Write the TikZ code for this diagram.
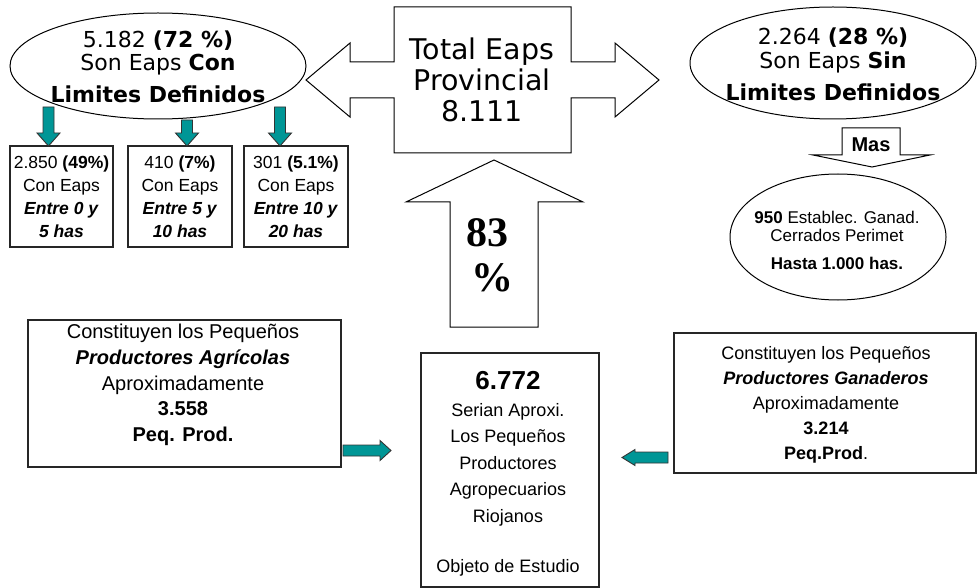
\documentclass[tikz,border=0pt]{standalone}
\usepackage{fontspec}
\setmainfont{Liberation Sans}
\newfontfamily\verd{DejaVu Sans}
\newfontfamily\tms{Liberation Serif}
\usetikzlibrary{shapes.geometric}
\definecolor{tealfill}{RGB}{0,150,150}
\newcommand\tealdown[3]{\draw[tealarr] (#1-5.5,#2) -- (#1+5.5,#2) -- (#1+5.5,#3-13) -- (#1+11.5,#3-13) -- (#1,#3) -- (#1-11.5,#3-13) -- (#1-5.5,#3-13) -- cycle;}
\begin{document}
\begin{tikzpicture}[x=1pt,y=-1pt,
  outl/.style={draw=black, line width=1pt, line join=miter},
  boxed/.style={draw=black!85, line width=1.3pt, inner sep=0pt},
  tealarr/.style={fill=tealfill, draw=black!80, line width=0.9pt, line join=miter},
  txt/.style={align=center, inner sep=0pt},
  arialA/.style={font=\fontsize{17.5}{23}\selectfont},
]
\useasboundingbox[fill=white] (0,0) rectangle (977,588);

% ---- left ellipse
\node[ellipse, outl, minimum width=296pt, minimum height=106pt, inner sep=0pt] (lell) at (158,66) {};
\node[txt, font=\verd\fontsize{22}{23}\selectfont] (lelltxt) at (158,67)
  {5.182 \textbf{(72 \%)}\\Son Eaps \textbf{Con}\\[9pt]\textbf{Limites Definidos}};

% ---- central double arrow
\draw[outl] (306,80) -- (350,43) -- (350,62) -- (394,62) -- (394,7) -- (571,7) -- (571,62) -- (615,62) -- (615,43) -- (659,80) -- (615,117) -- (615,98) -- (571,98) -- (571,153) -- (394,153) -- (394,98) -- (350,98) -- (350,117) -- cycle;
\node[txt, font=\verd\fontsize{28.5}{31}\selectfont] (total) at (482,80) {Total Eaps\\Provincial\\8.111};

% ---- up arrow 83 %
\draw[outl] (494,160) -- (583,202) -- (538,202) -- (538,327) -- (450,327) -- (450,202) -- (406,202) -- cycle;
\node[txt, font=\tms\bfseries\fontsize{42}{45}\selectfont] (pct) at (492,255) {83\hspace*{9pt}\\\%};

% ---- right ellipse
\node[ellipse, outl, minimum width=286pt, minimum height=112pt, inner sep=0pt] (rell) at (833,63) {};
\node[txt, font=\verd\fontsize{22}{24}\selectfont] (relltxt) at (833,64)
  {2.264 \textbf{(28 \%)}\\Son Eaps \textbf{Sin}\\[8pt]\textbf{Limites Definidos}};

% ---- Mas arrow
\draw[outl] (842,128) -- (900,128) -- (900,155) -- (930,155) -- (872,167) -- (813,155) -- (842,155) -- cycle;
\node[txt, font=\bfseries\fontsize{20}{22}\selectfont] (mas) at (871,145) {Mas};

% ---- small ellipse
\node[ellipse, outl, minimum width=216pt, minimum height=126pt, inner sep=0pt] (sell) at (838,237) {};
\node[txt, font=\fontsize{17}{18}\selectfont] (selltxt) at (837,240)
  {\textbf{950} Establec. Ganad.\\Cerrados Perimet\\[10pt]\textbf{Hasta 1.000 has.}};

% ---- three small boxes
\node[boxed, txt, arialA, minimum width=103pt, minimum height=101pt] (b1) at (61.5,196.5)
  {2.850 \textbf{(49\%)}\\Con Eaps\\\textbf{\textit{Entre 0 y}}\\\textbf{\textit{5 has}}};
\node[boxed, txt, arialA, minimum width=104pt, minimum height=101pt] (b2) at (180,196.5)
  {410 \textbf{(7\%)}\\Con Eaps\\\textbf{\textit{Entre 5 y}}\\\textbf{\textit{10 has}}};
\node[boxed, txt, arialA, minimum width=104pt, minimum height=101pt] (b3) at (296,196.5)
  {301 \textbf{(5.1\%)}\\Con Eaps\\\textbf{\textit{Entre 10 y}}\\\textbf{\textit{20 has}}};

\tealdown{48.5}{107}{146}
\tealdown{187}{120}{146}
\tealdown{280}{107}{146}

% ---- bottom left box
\node[boxed, minimum width=313pt, minimum height=147pt] (agr) at (184.5,393.5) {};
\node[txt, font=\fontsize{20}{25.7}\selectfont] (agrtxt) at (183,385)
  {Constituyen los Pequeños\\\textbf{\textit{Productores Agrícolas}}\\Aproximadamente\\\textbf{3.558}\\\textbf{Peq. Prod.}};

% ---- center bottom box
\node[boxed, minimum width=178pt, minimum height=234pt] (obj) at (510,470) {};
\node[txt, font=\fontsize{18}{26.5}\selectfont] (objtxt) at (508,474)
  {{\fontsize{26}{26.5}\selectfont\bfseries 6.772}\\Serian Aproxi.\\Los Pequeños\\Productores\\Agropecuarios\\Riojanos\\[24pt]Objeto de Estudio};

% ---- right box
\node[boxed, minimum width=302pt, minimum height=140pt] (gan) at (825,403) {};
\node[txt, font=\fontsize{18}{25}\selectfont] (gantxt) at (826,405)
  {Constituyen los Pequeños\\\textbf{\textit{Productores Ganaderos}}\\Aproximadamente\\\textbf{3.214}\\\textbf{Peq.Prod}.};

% ---- teal horizontal arrows
\draw[tealarr] (343,445) -- (380,445) -- (380,440.5) -- (391,450.5) -- (380,460.5) -- (380,456) -- (343,456) -- cycle;
\draw[tealarr] (668,452) -- (635,452) -- (635,449.5) -- (622,457.5) -- (635,465.5) -- (635,463) -- (668,463) -- cycle;
\end{tikzpicture}
\end{document}
